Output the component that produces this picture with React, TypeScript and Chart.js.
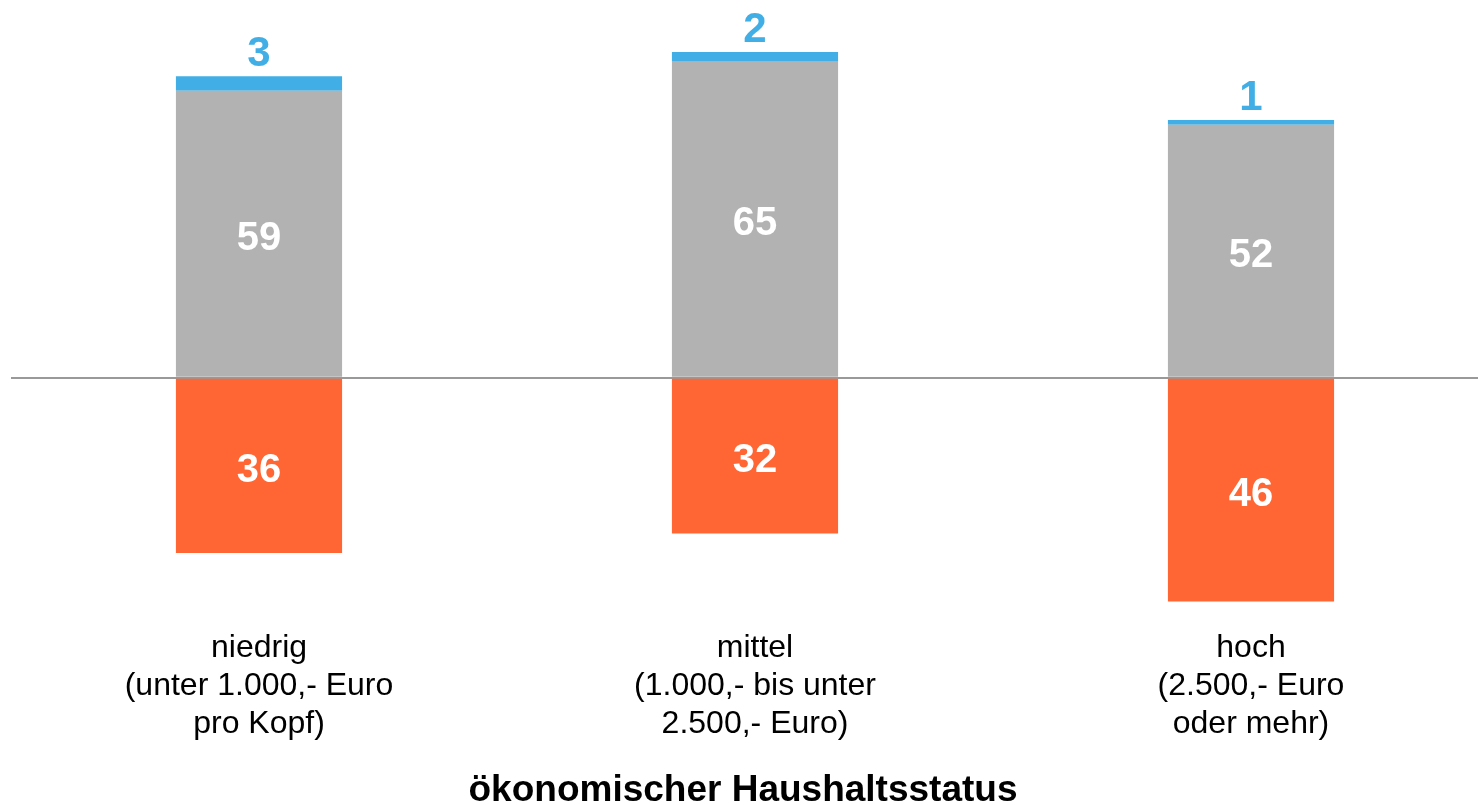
import React, { useEffect, useRef } from "react";
import { Chart, registerables } from "chart.js";

Chart.register(...registerables);

// ---- data ----
const categories: string[][] = [
  ["niedrig", "(unter 1.000,- Euro", "pro Kopf)"],
  ["mittel", "(1.000,- bis unter", "2.500,- Euro)"],
  ["hoch", "(2.500,- Euro", "oder mehr)"],
];
const greyValues = [59, 65, 52];
const blueValues = [3, 2, 1];
const orangeValues = [36, 32, 46];
const axisTitle = "ökonomischer Haushaltsstatus";

const GREY = "#b2b2b2";
const BLUE = "#41afe5";
const ORANGE = "#ff6633";
const FONT = "Arial, 'Liberation Sans', Helvetica, sans-serif";

const labelPlugin = {
  id: "valueLabels",
  afterDatasetsDraw(chart: any) {
    const ctx = chart.ctx;
    ctx.save();
    ctx.textAlign = "center";
    chart.data.datasets.forEach((ds: any, di: number) => {
      const meta = chart.getDatasetMeta(di);
      meta.data.forEach((el: any, i: number) => {
        const p = el.getProps(["x", "y", "base"], true);
        const v = Math.abs(ds.data[i]);
        if (ds.labelOutside) {
          ctx.font = `bold 42px ${FONT}`;
          ctx.fillStyle = BLUE;
          ctx.textBaseline = "alphabetic";
          ctx.fillText(String(v), p.x, Math.min(p.y, p.base) - 10);
        } else {
          ctx.font = `bold 40px ${FONT}`;
          ctx.fillStyle = "#ffffff";
          ctx.textBaseline = "middle";
          ctx.fillText(String(v), p.x, (p.y + p.base) / 2 + 5);
        }
      });
    });
    ctx.restore();
  },
};

const titlePlugin = {
  id: "bottomTitle",
  afterDraw(chart: any) {
    const ctx = chart.ctx;
    ctx.save();
    ctx.font = `bold 37px ${FONT}`;
    ctx.fillStyle = "#000000";
    ctx.textAlign = "center";
    ctx.textBaseline = "middle";
    ctx.fillText(axisTitle, 743, 791);
    ctx.restore();
  },
};

export default function App() {
  const ref = useRef<HTMLCanvasElement | null>(null);

  useEffect(() => {
    if (!ref.current) return;
    const chart = new Chart(ref.current, {
      type: "bar",
      data: {
        labels: categories,
        datasets: [
          {
            label: "grau",
            data: greyValues,
            backgroundColor: GREY,
            borderWidth: 0,
          },
          {
            label: "blau",
            data: blueValues,
            backgroundColor: BLUE,
            borderWidth: 0,
            labelOutside: true,
          } as any,
          {
            label: "orange",
            data: orangeValues.map((v) => -v),
            backgroundColor: ORANGE,
            borderWidth: 0,
          },
        ],
      },
      options: {
        animation: false,
        responsive: false,
        maintainAspectRatio: false,
        layout: { padding: { left: 11, right: 1, top: 13, bottom: 44 } },
        plugins: {
          legend: { display: false },
          tooltip: { enabled: false },
          title: { display: false },
        },
        datasets: {
          bar: { categoryPercentage: 1, barPercentage: 0.335 },
        },
        scales: {
          x: {
            stacked: true,
            grid: { display: false },
            border: { display: false },
            ticks: {
              color: "#000000",
              font: { family: FONT, size: 32, lineHeight: "38px" },
              padding: 0,
              maxRotation: 0,
              autoSkip: false,
            },
            afterFit: (s: any) => {
              s.height = 140;
            },
          },
          y: {
            stacked: true,
            min: -50,
            max: 75,
            border: { display: false },
            ticks: { display: false, stepSize: 25 },
            grid: {
              drawTicks: false,
              lineWidth: 2,
              color: (c: any) => (c.tick && c.tick.value === 0 ? "#999999" : "rgba(0,0,0,0)"),
            },
            afterFit: (s: any) => {
              s.width = 0;
            },
          },
        },
      },
      plugins: [labelPlugin, titlePlugin],
    });
    return () => chart.destroy();
  }, []);

  return (
    <div
      style={{
        position: "fixed",
        left: 0,
        top: 0,
        width: 1478,
        height: 805,
        overflow: "hidden",
        background: "#ffffff",
      }}
    >
      <canvas ref={ref} width={1500} height={805} style={{ display: "block" }} />
    </div>
  );
}
